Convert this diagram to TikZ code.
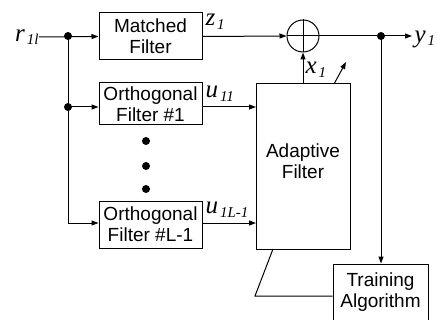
\documentclass[tikz,border=0pt]{standalone}
\usepackage{fontspec}
\setmainfont{Liberation Serif}
\setsansfont{Liberation Sans}
\usetikzlibrary{arrows.meta}
\newcommand\lbl[2]{\textit{#1}\hspace{2pt}\raisebox{-0.15em}{\fontsize{15}{15}\selectfont\textit{#2}}}
\begin{document}
\begin{tikzpicture}[x=1pt,y=-1pt,
  every path/.style={line width=1pt},
  blk/.style={draw,line width=1pt,inner sep=0pt,align=center,font=\sffamily\fontsize{19}{21}\selectfont},
  lab/.style={inner sep=0pt,font=\fontsize{25}{25}\selectfont},
  arr/.style={-{Triangle[length=7pt,width=5pt]}},
  dotc/.style={circle,fill,inner sep=0pt,minimum size=8pt}]
\useasboundingbox (0,0) rectangle (438,320);
% blocks
\node[blk,minimum width=103pt,minimum height=47pt] (mf) at (150.5,36.5) {Matched\\Filter};
\node[blk,minimum width=103pt,minimum height=42pt] (of1) at (150.5,104) {Orthogonal\\Filter \#1};
\node[blk,minimum width=103pt,minimum height=47pt] (ofl) at (150.5,224.5) {Orthogonal\\Filter \#L-1};
\node[draw,line width=1pt,minimum width=94pt,minimum height=165pt,inner sep=0pt] (af) at (303,166.5) {};
\node[blk,draw=none] (aft) at (303,161) {Adaptive\\Filter};
\node[blk,minimum width=95pt,minimum height=57pt] (ta) at (380.5,292.5) {Training\\Algorithm};
\node[draw,circle,minimum size=32pt,inner sep=0pt,line width=1pt] (sum) at (303,36) {};
\draw (sum.north) -- (sum.south) (sum.west) -- (sum.east);
% dots
\node[dotc] (d1) at (146,141) {};
\node[dotc] (d2) at (146,166) {};
\node[dotc] (d3) at (146,189) {};
% labels
\node[lab,anchor=east] (r) at (39,37) {\lbl{r}{1l}};
\node[lab,anchor=south west] (z) at (205,30) {\lbl{z}{1}};
\node[lab,anchor=south west] (u1) at (205,102) {\lbl{u}{11}};
\node[lab,anchor=south west] (ul) at (205,218) {\lbl{u}{1L-1}};
\node[lab,anchor=west] (x) at (305,70) {\lbl{x}{1}};
\node[lab,anchor=west] (y) at (414,39) {\lbl{y}{1}};
% junctions
\coordinate (j1) at (68,36);
\coordinate (j2) at (68,107);
\coordinate (j3) at (68,223);
\node[dotc] (jd1) at (j1) {};
\node[dotc] (jd2) at (j2) {};
\coordinate (yo) at (381,36);
\node[dotc] (yd) at (yo) {};
\coordinate (yend) at (412,36);
% connectors
\draw[arr] (r.east) -- (mf.west);
\draw (j1) -- (j3);
\draw[arr] (j2) -- (j2 -| of1.west);
\draw[arr] (j3) -- (j3 -| ofl.west);
\draw[arr] (mf.east) -- (sum.west);
\draw[arr] (sum.east) -- (yend);
\draw[arr] (yo) -- (yo |- ta.north);
\draw[arr] (af.north) -- (sum.south);
\coordinate (da) at (334,84);
\coordinate (db) at (346,62);
\draw[arr] (da) -- (db);
\draw[arr] (202,107) -- (256,107);
\draw[arr] (202,223) -- (256,223);
\coordinate (fa) at (273,249);
\coordinate (fb) at (255,296);
\draw (fa) -- (fb) -- (fb -| ta.west);
\end{tikzpicture}
\end{document}
